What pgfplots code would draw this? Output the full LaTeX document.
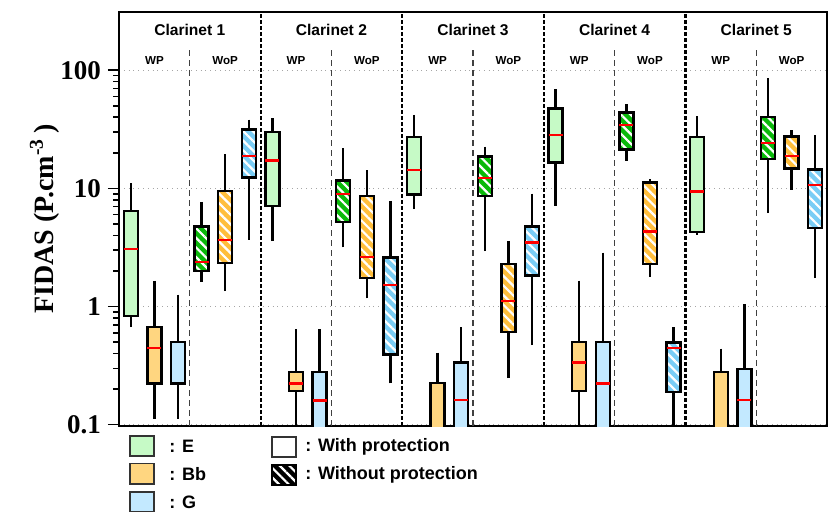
\documentclass[border=0pt]{standalone}
\usepackage{fontspec}
\setmainfont{Liberation Serif}
\setsansfont{Liberation Sans}
\usepackage{pgfplots}
\pgfplotsset{compat=1.18}
\usepgfplotslibrary{statistics}
\usetikzlibrary{patterns.meta,calc}

\definecolor{wpE}{RGB}{198,250,198}
\definecolor{wopE}{RGB}{10,185,10}
\definecolor{wpB}{RGB}{255,214,128}
\definecolor{wopB}{RGB}{255,190,60}
\definecolor{wpG}{RGB}{195,233,255}
\definecolor{wopG}{RGB}{122,205,245}

\pgfplotsset{
  wp/.style={boxplot/every box/.style={draw=black,line width=1.2pt,fill=#1}},
  wop/.style={boxplot/every box/.style={draw=black,line width=1.2pt,preaction={fill=#1},
      pattern={Lines[angle=-45,distance=3.4pt,line width=1.1pt]},pattern color=white}},
  nomed/.style={boxplot/every median/.style={draw=none}},
}
% style, position, lower whisker, lower quartile, median, upper quartile, upper whisker
\newcommand{\bx}[7]{%
  \addplot[#1, boxplot prepared={draw position=#2, lower whisker=#3,
    lower quartile=#4, median=#5, upper quartile=#6, upper whisker=#7}] coordinates {};}

\begin{document}
\begin{tikzpicture}
\begin{axis}[
  scale only axis, width=354pt, height=207pt,
  xmin=0, xmax=30, ymode=log, ymin=0.0975, ymax=311,
  xtick=\empty,
  ytick={0.1,1,10,100}, yticklabels={0.1,1,10,100},
  ytick pos=left, tick align=outside,
  major tick length=5.5pt, minor tick length=3pt,
  every tick/.style={black, line width=0.8pt},
  ymajorgrids, major grid style={dotted, gray!70, line width=0.5pt},
  axis line style={line width=1pt},
  yticklabel style={font=\fontsize{13.5}{13.5}\selectfont\bfseries},
  ylabel={FIDAS (P.cm\textsuperscript{-3}\,)},
  ylabel style={font=\fontsize{14}{14}\selectfont\bfseries,
    at={(axis description cs:-0.105,0.5)}, anchor=center},
  boxplot/draw direction=y,
  boxplot/box extend=0.6,
  boxplot/every whisker/.style={black, line width=1.2pt},
  boxplot/every median/.style={red, line width=1.1pt},
  boxplot/draw/lower whisker/.code={%
    \draw[/pgfplots/boxplot/every whisker/.try]
      (boxplot box cs:\pgfplotsboxplotvalue{lower whisker},0.5) --
      (boxplot box cs:\pgfplotsboxplotvalue{lower quartile},0.5);},
  boxplot/draw/upper whisker/.code={%
    \draw[/pgfplots/boxplot/every whisker/.try]
      (boxplot box cs:\pgfplotsboxplotvalue{upper whisker},0.5) --
      (boxplot box cs:\pgfplotsboxplotvalue{upper quartile},0.5);},
]

% separators
\pgfplotsinvokeforeach{6,12,18,24}{
  \draw[black, line width=1.1pt, dash pattern=on 2pt off 1pt] (axis cs:#1,0.0975) -- (axis cs:#1,311);
}
\pgfplotsinvokeforeach{3,9,15,21,27}{
  \draw[black!75, line width=0.6pt, dash pattern=on 3pt off 2pt] (axis cs:#1,0.0975) -- (axis cs:#1,160);
}

% Clarinet 1
\bx{wp=wpE}{0.5}{0.67}{0.83}{3.08}{6.45}{11.0}
\bx{wp=wpB}{1.5}{0.112}{0.223}{0.447}{0.67}{1.65}
\bx{wp=wpG, nomed}{2.5}{0.112}{0.223}{0.223}{0.50}{1.26}
\bx{wop=wopE}{3.5}{1.62}{2.0}{2.39}{4.75}{7.68}
\bx{wop=wopB}{4.5}{1.35}{2.34}{3.64}{9.5}{19.4}
\bx{wop=wopG}{5.5}{3.69}{12.4}{18.9}{31.6}{38.2}
% Clarinet 2
\bx{wp=wpE}{6.5}{3.57}{7.06}{17.2}{30.1}{39.2}
\bx{wp=wpB}{7.5}{0.09}{0.192}{0.223}{0.28}{0.643}
\bx{wp=wpG}{8.5}{0.09}{0.09}{0.160}{0.278}{0.643}
\bx{wop=wopE}{9.5}{3.16}{5.17}{8.9}{11.7}{21.9}
\bx{wop=wopB}{10.5}{1.17}{1.74}{2.63}{8.58}{14.2}
\bx{wop=wopG}{11.5}{0.224}{0.393}{1.53}{2.60}{7.83}
% Clarinet 3
\bx{wp=wpE}{12.5}{6.67}{8.87}{14.3}{27.1}{41.8}
\bx{wp=wpB, nomed}{13.5}{0.09}{0.09}{0.09}{0.225}{0.408}
\bx{wp=wpG}{14.5}{0.09}{0.09}{0.162}{0.336}{0.668}
\bx{wop=wopE}{15.5}{2.94}{8.63}{12.3}{18.6}{22.6}
\bx{wop=wopB}{16.5}{0.248}{0.61}{1.12}{2.28}{3.59}
\bx{wop=wopG}{17.5}{0.471}{1.83}{3.48}{4.75}{9.04}
% Clarinet 4
\bx{wp=wpE}{18.5}{7.11}{16.6}{28.1}{47.6}{68.9}
\bx{wp=wpB}{19.5}{0.09}{0.192}{0.336}{0.50}{1.66}
\bx{wp=wpG}{20.5}{0.09}{0.09}{0.223}{0.50}{2.86}
\bx{wop=wopE}{21.5}{17.2}{21.4}{34.4}{43.8}{51.5}
\bx{wop=wopB}{22.5}{1.79}{2.30}{4.31}{11.2}{11.9}
\bx{wop=wopG}{23.5}{0.09}{0.19}{0.444}{0.496}{0.668}
% Clarinet 5
\bx{wp=wpE}{24.5}{4.04}{4.26}{9.4}{27.3}{40.7}
\bx{wp=wpB, nomed}{25.5}{0.09}{0.09}{0.09}{0.278}{0.441}
\bx{wp=wpG}{26.5}{0.09}{0.09}{0.162}{0.295}{1.05}
\bx{wop=wopE}{27.5}{6.16}{17.8}{24.2}{40.0}{85.5}
\bx{wop=wopB}{28.5}{9.7}{14.7}{18.9}{27.4}{31.0}
\bx{wop=wopG}{29.5}{1.74}{4.6}{10.6}{14.5}{28.2}

% group titles
\begin{scope}[font=\sffamily\bfseries\fontsize{7.8}{8}\selectfont]
\node at (rel axis cs:0.1,0.9565) {Clarinet 1};
\node at (rel axis cs:0.3,0.9565) {Clarinet 2};
\node at (rel axis cs:0.5,0.9565) {Clarinet 3};
\node at (rel axis cs:0.7,0.9565) {Clarinet 4};
\node at (rel axis cs:0.9,0.9565) {Clarinet 5};
\end{scope}
\begin{scope}[font=\sffamily\bfseries\fontsize{5.8}{6}\selectfont]
\pgfplotsinvokeforeach{0.05,0.25,0.45,0.65,0.85}{\node at (rel axis cs:#1,0.8816) {WP};}
\pgfplotsinvokeforeach{0.15,0.35,0.55,0.75,0.95}{\node at (rel axis cs:#1,0.8816) {WoP};}
\end{scope}
\end{axis}

% legend, in pixel units of the 828x513 frame
\begin{scope}[shift={($(current axis.south west)+(-59.5pt,213pt)$)}, x=0.5pt, y=-0.5pt,
  every node/.style={anchor=west, inner sep=0pt, font=\sffamily\bfseries\fontsize{9}{9}\selectfont}]
\path (0,0) rectangle (828,513);
\draw[black!80, line width=0.8pt, fill=wpE] (130,436) rectangle (154,456);
\draw[black!80, line width=0.8pt, fill=wpB] (130,463.5) rectangle (154,484);
\draw[black!80, line width=0.8pt, fill=wpG] (130,492) rectangle (154,511.5);
\node at (169,446) {: E};
\node at (169,474) {: Bb};
\node at (169,502) {: G};
\draw[black!80, line width=0.8pt, fill=white] (272,437) rectangle (296,457);
\draw[black, line width=0.8pt, preaction={fill=black},
  pattern={Lines[angle=-45,distance=3.4pt,line width=1.1pt]}, pattern color=white] (272,465) rectangle (296,485);
\node at (305,447) {: With protection};
\node at (305,475) {: Without protection};
\end{scope}
\end{tikzpicture}
\end{document}
